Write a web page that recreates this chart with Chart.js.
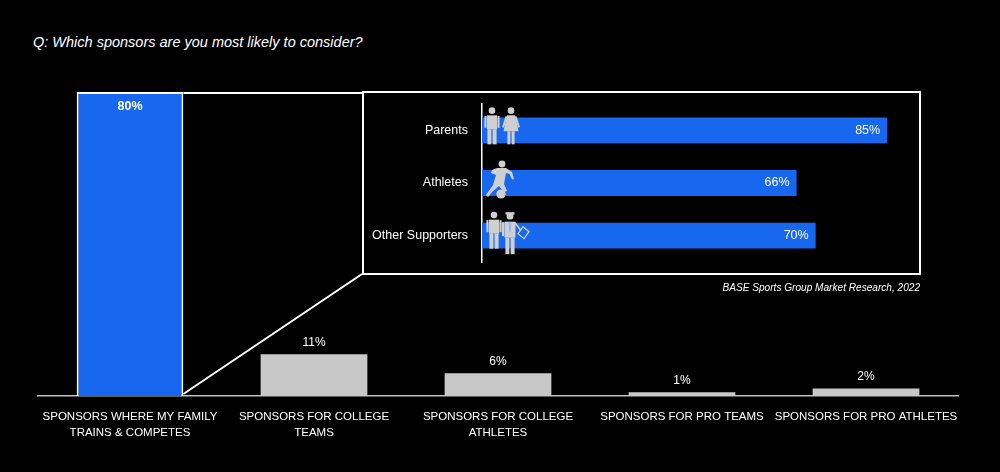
<!DOCTYPE html>
<html>
<head>
<meta charset="utf-8">
<script src="https://cdn.jsdelivr.net/npm/chart.js@4.4.1/dist/chart.umd.min.js"></script>
<style>
  html, body { margin: 0; padding: 0; background: #000; }
  body { width: 1000px; height: 472px; position: relative; overflow: hidden; font-family: "Liberation Sans", Arial, sans-serif; }
  #mainChart { position: absolute; left: 0; top: 0; }
  #insetChart { position: absolute; left: 362px; top: 91px; }
  .title { position: absolute; left: 33px; top: 34px; font-size: 14.5px; line-height: 16px; font-style: italic; color: #fff; }
  .source { position: absolute; right: 80px; top: 281px; font-size: 10.1px; line-height: 14px; font-style: italic; color: #fff; }
</style>
</head>
<body>
<div class="title">Q: Which sponsors are you most likely to consider?</div>
<canvas id="mainChart" width="1000" height="472"></canvas>
<canvas id="insetChart" width="559" height="184"></canvas>
<div class="source">BASE Sports Group Market Research, 2022</div>
<script>
// main question
const sponsorLabels = [
  ["SPONSORS WHERE MY FAMILY", "TRAINS & COMPETES"],
  ["SPONSORS FOR COLLEGE", "TEAMS"],
  ["SPONSORS FOR COLLEGE", "ATHLETES"],
  "SPONSORS FOR PRO TEAMS",
  "SPONSORS FOR PRO ATHLETES"
];
const sponsorValues = [80, 11, 6, 1, 2];

// breakdown of the first bar
const groupLabels = ["Parents", "Athletes", "Other Supporters"];
const groupValues = [85, 66, 70];

const BLUE = "#1768ee";
const GREY = "#c8c8c8";
const ICON = "#cfcfcf";

Chart.defaults.font.family = "'Liberation Sans', Arial, sans-serif";
Chart.defaults.color = "#fff";

// where the inset box sits on the page (layout only)
const insetBox = { left: 362, top: 92, right: 920, bottom: 274 };

const mainLabelsPlugin = {
  id: "mainLabels",
  afterDatasetsDraw(chart) {
    const ctx = chart.ctx;
    const meta = chart.getDatasetMeta(0);
    ctx.save();
    ctx.fillStyle = "#fff";
    ctx.textAlign = "center";
    ctx.textBaseline = "middle";
    meta.data.forEach((bar, i) => {
      const txt = sponsorValues[i] + "%";
      if (i === 0) {
        ctx.font = "bold 12.5px 'Liberation Sans', Arial, sans-serif";
        ctx.fillText(txt, bar.x, bar.y + 15);
      } else {
        ctx.font = "12px 'Liberation Sans', Arial, sans-serif";
        ctx.fillText(txt, bar.x, bar.y - 12);
      }
    });
    // callout lines from the first bar to the inset
    const b = meta.data[0];
    const right = b.x + b.width / 2;
    ctx.strokeStyle = "#fff";
    ctx.lineWidth = 2;
    ctx.beginPath();
    ctx.moveTo(right, b.y + 1);
    ctx.lineTo(insetBox.left, b.y + 1);
    ctx.moveTo(right, b.base - 2);
    ctx.lineTo(insetBox.left, insetBox.bottom);
    ctx.stroke();
    ctx.restore();
  }
};

new Chart(document.getElementById("mainChart"), {
  type: "bar",
  data: {
    labels: sponsorLabels,
    datasets: [{
      data: sponsorValues,
      backgroundColor: sponsorValues.map((v, i) => i === 0 ? BLUE : GREY),
      borderColor: "#fff",
      borderWidth: sponsorValues.map((v, i) => i === 0 ? 2 : 0),
      borderSkipped: "bottom",
      barPercentage: 0.58,
      categoryPercentage: 1
    }]
  },
  options: {
    responsive: false,
    animation: false,
    layout: { padding: { left: 38, right: 42, top: 92, bottom: 0 } },
    plugins: { legend: { display: false }, tooltip: { enabled: false } },
    scales: {
      y: { display: false, min: 0, max: 80 },
      x: {
        afterFit: (scale) => { scale.height = 76; },
        grid: { display: false },
        border: { color: "#bfbfbf", width: 1.5 },
        ticks: {
          color: "#fff",
          padding: 4,
          maxRotation: 0,
          autoSkip: false,
          font: { size: 11.5, lineHeight: 1.45 }
        }
      }
    }
  },
  plugins: [mainLabelsPlugin]
});

// --- small pictograms for the inset ---
function man(ctx, cx, y0) {
  ctx.beginPath();
  ctx.arc(cx, y0 + 3.3, 3.3, 0, Math.PI * 2);
  ctx.fill();
  ctx.fillRect(cx - 5, y0 + 8, 10, 14);
  ctx.fillRect(cx - 7.6, y0 + 8.5, 2.1, 12);
  ctx.fillRect(cx + 5.5, y0 + 8.5, 2.1, 12);
  ctx.fillRect(cx - 4.6, y0 + 22, 4, 15);
  ctx.fillRect(cx + 0.6, y0 + 22, 4, 15);
}
function woman(ctx, cx, y0) {
  ctx.beginPath();
  ctx.arc(cx, y0 + 3.3, 3.3, 0, Math.PI * 2);
  ctx.fill();
  ctx.beginPath();
  ctx.moveTo(cx - 4, y0 + 8);
  ctx.lineTo(cx + 4, y0 + 8);
  ctx.lineTo(cx + 7.5, y0 + 24);
  ctx.lineTo(cx - 7.5, y0 + 24);
  ctx.closePath();
  ctx.fill();
  ctx.save();
  ctx.lineWidth = 2;
  ctx.strokeStyle = ICON;
  ctx.beginPath();
  ctx.moveTo(cx - 4.5, y0 + 9);
  ctx.lineTo(cx - 8, y0 + 20);
  ctx.moveTo(cx + 4.5, y0 + 9);
  ctx.lineTo(cx + 8, y0 + 20);
  ctx.stroke();
  ctx.restore();
  ctx.fillRect(cx - 3.6, y0 + 24, 3, 13);
  ctx.fillRect(cx + 0.6, y0 + 24, 3, 13);
}
function kicker(ctx, x0, y0) {
  ctx.beginPath();
  ctx.arc(x0 + 17, y0 + 4, 3.4, 0, Math.PI * 2);
  ctx.fill();
  ctx.beginPath();
  ctx.moveTo(x0 + 12, y0 + 8);
  ctx.lineTo(x0 + 21, y0 + 8);
  ctx.lineTo(x0 + 27, y0 + 12);
  ctx.lineTo(x0 + 29, y0 + 19);
  ctx.lineTo(x0 + 27, y0 + 19.5);
  ctx.lineTo(x0 + 24.5, y0 + 14);
  ctx.lineTo(x0 + 21, y0 + 13);
  ctx.lineTo(x0 + 19, y0 + 24);
  ctx.lineTo(x0 + 22, y0 + 31);
  ctx.lineTo(x0 + 19, y0 + 32);
  ctx.lineTo(x0 + 14, y0 + 26);
  ctx.lineTo(x0 + 7, y0 + 32);
  ctx.lineTo(x0 + 3, y0 + 37);
  ctx.lineTo(x0 + 1, y0 + 35);
  ctx.lineTo(x0 + 8, y0 + 25);
  ctx.lineTo(x0 + 11, y0 + 15);
  ctx.lineTo(x0 + 6, y0 + 13);
  ctx.lineTo(x0 + 7, y0 + 10);
  ctx.closePath();
  ctx.fill();
  ctx.beginPath();
  ctx.arc(x0 + 16, y0 + 34, 4.6, 0, Math.PI * 2);
  ctx.fill();
}
function coach(ctx, cx, y0) {
  ctx.beginPath();
  ctx.arc(cx, y0 + 4.5, 3.4, 0, Math.PI * 2);
  ctx.fill();
  ctx.fillRect(cx - 4.5, y0 + 0.5, 9, 2.5);
  ctx.fillRect(cx - 5.5, y0 + 10, 11, 16);
  ctx.fillRect(cx - 8, y0 + 10.5, 2.2, 14);
  ctx.fillRect(cx - 4.6, y0 + 26, 4, 16.5);
  ctx.fillRect(cx + 0.6, y0 + 26, 4, 16.5);
  ctx.save();
  ctx.strokeStyle = ICON;
  ctx.lineWidth = 1.6;
  ctx.beginPath();
  ctx.moveTo(cx + 5, y0 + 11);
  ctx.lineTo(cx + 11, y0 + 19);
  ctx.stroke();
  ctx.strokeStyle = "#8fb4f5";
  ctx.lineWidth = 1;
  ctx.beginPath();
  ctx.moveTo(cx - 1, y0 + 10);
  ctx.lineTo(cx, y0 + 20);
  ctx.lineTo(cx + 1, y0 + 10);
  ctx.stroke();
  ctx.strokeStyle = ICON;
  ctx.lineWidth = 1.3;
  ctx.beginPath();
  ctx.moveTo(cx + 13, y0 + 15);
  ctx.lineTo(cx + 19, y0 + 20);
  ctx.lineTo(cx + 14, y0 + 27);
  ctx.lineTo(cx + 8, y0 + 22);
  ctx.closePath();
  ctx.stroke();
  ctx.restore();
}

const insetPlugin = {
  id: "insetDecor",
  afterDatasetsDraw(chart) {
    const ctx = chart.ctx;
    const xs = chart.scales.x;
    const ys = chart.scales.y;
    const meta = chart.getDatasetMeta(0);
    ctx.save();
    // value labels at bar ends
    ctx.fillStyle = "#fff";
    ctx.font = "12.5px 'Liberation Sans', Arial, sans-serif";
    ctx.textAlign = "right";
    ctx.textBaseline = "middle";
    meta.data.forEach((bar, i) => {
      ctx.fillText(groupValues[i] + "%", bar.x - 7, bar.y);
    });
    // pictograms
    ctx.fillStyle = ICON;
    const x0 = xs.left;
    const y1 = ys.getPixelForValue(0);
    const y2 = ys.getPixelForValue(1);
    const y3 = ys.getPixelForValue(2);
    man(ctx, x0 + 10, y1 - 23);
    woman(ctx, x0 + 29, y1 - 23);
    kicker(ctx, x0 + 3, y2 - 23);
    man(ctx, x0 + 12, y3 - 24);
    coach(ctx, x0 + 28, y3 - 24);
    ctx.restore();
  },
  afterDraw(chart) {
    const ctx = chart.ctx;
    ctx.save();
    ctx.strokeStyle = "#fff";
    ctx.lineWidth = 2;
    ctx.strokeRect(1, 1, chart.width - 2, chart.height - 2);
    ctx.restore();
  }
};

new Chart(document.getElementById("insetChart"), {
  type: "bar",
  data: {
    labels: groupLabels,
    datasets: [{
      data: groupValues,
      backgroundColor: BLUE,
      borderWidth: 0,
      barPercentage: 0.49,
      categoryPercentage: 1
    }]
  },
  options: {
    indexAxis: "y",
    responsive: false,
    animation: false,
    layout: { padding: { left: 0, right: 10, top: 13, bottom: 13 } },
    plugins: { legend: { display: false }, tooltip: { enabled: false } },
    scales: {
      x: { display: false, min: 0, max: 90 },
      y: {
        afterFit: (scale) => {
          scale.width = 120;
          scale.paddingTop = 0;
          scale.paddingBottom = 0;
        },
        grid: { display: false },
        border: { color: "#fff", width: 1.5 },
        ticks: { color: "#fff", padding: 6, font: { size: 12.5 } }
      }
    }
  },
  plugins: [insetPlugin]
});
</script>
</body>
</html>
